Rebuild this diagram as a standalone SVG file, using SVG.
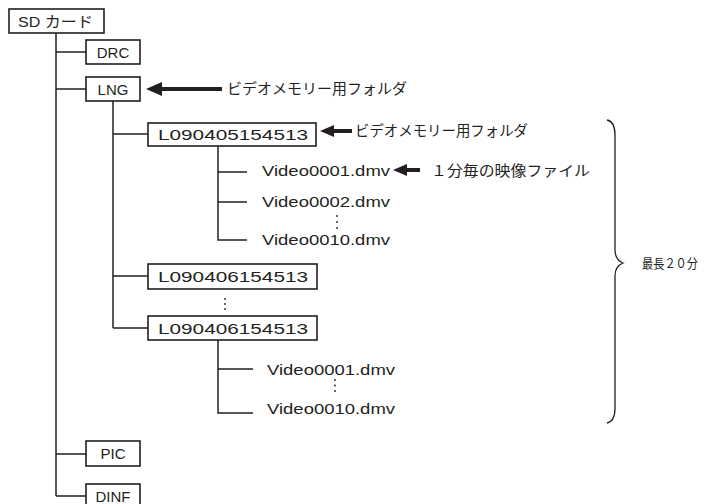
<svg xmlns="http://www.w3.org/2000/svg" width="720" height="504" viewBox="0 0 720 504">
<style>
.box{fill:#fff;stroke:#231f20;stroke-width:1.6}
.ln{fill:none;stroke:#231f20;stroke-width:1.5}
.ar{fill:none;stroke:#231f20;stroke-width:4}
.ah{fill:#231f20}
text{font-family:"Liberation Sans","Noto Sans CJK JP",sans-serif;fill:#231f20}
.n{font-size:15px}
.id{font-size:15px}
.jp{font-size:14.5px}
.dot{fill:#231f20}
</style>
<rect width="720" height="504" fill="#fff"/>
<g id="connectors">
<path class="ln" d="M56 33V496M56 52H86M56 89H86M56 454H86M56 496H86"/>
<path class="ln" d="M113 101V328M113 134H148M113 276H148M113 328H148"/>
<path class="ln" d="M218 146V240H247M218 172H247M218 202H247"/>
<path class="ln" d="M218 340V413H253M218 369H253"/>
<g id="arrow1"><path class="ar" d="M158 89H222"/><path class="ah" d="M146 89L162 82V96Z"/></g>
<g id="arrow2"><path class="ar" d="M330 131H352"/><path class="ah" d="M320 131L334 125V137Z"/></g>
<g id="arrow3"><path class="ar" d="M403 170H420"/><path class="ah" d="M393 170L407 164V176Z"/></g>
<path class="ln" style="stroke-width:1.3" d="M607 120C612 121 615 126 615 135V250C615 257 618 261 623 263C618 265 615 269 615 276V408C615 417 612 422 607 423"/>
</g>
<g id="sd"><rect class="box" x="9" y="9" width="95" height="24"/><text class="n" x="18" y="27" textLength="75" lengthAdjust="spacingAndGlyphs">SD カード</text></g>
<g id="drc"><rect class="box" x="86" y="40" width="54" height="24"/><text class="n" x="113" y="58" text-anchor="middle">DRC</text></g>
<g id="lng"><rect class="box" x="86" y="77" width="54" height="24"/><text class="n" x="113" y="95" text-anchor="middle">LNG</text></g>
<g id="lab1"><text class="jp" x="227" y="94" textLength="180" lengthAdjust="spacingAndGlyphs">ビデオメモリー用フォルダ</text></g>
<g id="l0405"><rect class="box" x="148" y="123" width="168" height="23"/><text class="id" x="158" y="140" textLength="150" lengthAdjust="spacingAndGlyphs">L090405154513</text></g>
<g id="lab2"><text class="jp" x="355" y="136" textLength="173" lengthAdjust="spacingAndGlyphs">ビデオメモリー用フォルダ</text></g>
<g id="v1"><text class="id" x="262" y="176" textLength="128" lengthAdjust="spacingAndGlyphs">Video0001.dmv</text></g>
<g id="lab3"><text class="jp" x="431" y="176" textLength="159" lengthAdjust="spacingAndGlyphs">１分毎の映像ファイル</text></g>
<g id="v2"><text class="id" x="262" y="207" textLength="128" lengthAdjust="spacingAndGlyphs">Video0002.dmv</text></g>
<g id="dots1"><circle class="dot" cx="337" cy="216" r="0.9"/><circle class="dot" cx="337" cy="222" r="0.9"/><circle class="dot" cx="337" cy="228" r="0.9"/></g>
<g id="v10"><text class="id" x="262" y="245" textLength="128" lengthAdjust="spacingAndGlyphs">Video0010.dmv</text></g>
<g id="l0406a"><rect class="box" x="148" y="264" width="169" height="25"/><text class="id" x="158" y="282" textLength="150" lengthAdjust="spacingAndGlyphs">L090406154513</text></g>
<g id="dots2"><circle class="dot" cx="225" cy="299" r="0.9"/><circle class="dot" cx="225" cy="304" r="0.9"/><circle class="dot" cx="225" cy="309" r="0.9"/></g>
<g id="l0406b"><rect class="box" x="148" y="316" width="169" height="24"/><text class="id" x="158" y="334" textLength="150" lengthAdjust="spacingAndGlyphs">L090406154513</text></g>
<g id="v1b"><text class="id" x="267" y="375" textLength="128" lengthAdjust="spacingAndGlyphs">Video0001.dmv</text></g>
<g id="dots3"><circle class="dot" cx="335" cy="380" r="0.9"/><circle class="dot" cx="335" cy="385.5" r="0.9"/><circle class="dot" cx="335" cy="391" r="0.9"/></g>
<g id="v10b"><text class="id" x="267" y="414" textLength="128" lengthAdjust="spacingAndGlyphs">Video0010.dmv</text></g>
<g id="max"><text x="642" y="268" style="font-size:13px" textLength="56" lengthAdjust="spacingAndGlyphs">最長２０分</text></g>
<g id="pic"><rect class="box" x="86" y="441" width="54" height="25"/><text class="n" x="113" y="459" text-anchor="middle">PIC</text></g>
<g id="dinf"><rect class="box" x="86" y="484" width="54" height="26"/><text class="n" x="113" y="502" text-anchor="middle">DINF</text></g>
</svg>
